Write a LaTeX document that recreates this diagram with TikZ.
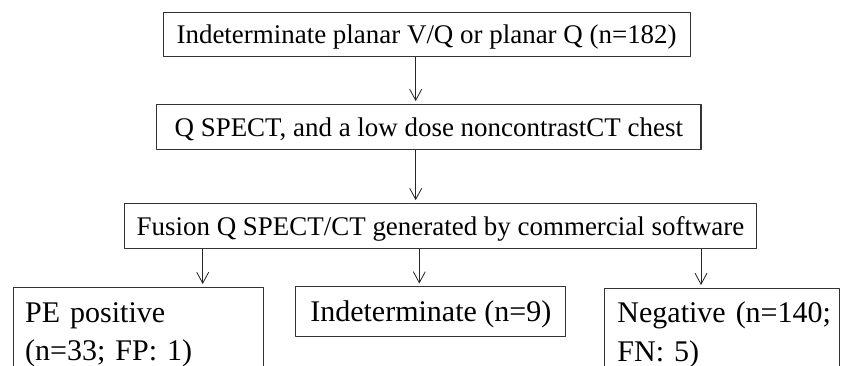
\documentclass[tikz,border=0pt]{standalone}
\usepackage{fontspec}
\setmainfont{Liberation Serif}
\usetikzlibrary{arrows.meta}

\begin{document}
\begin{tikzpicture}[x=0.3mm,y=-0.3mm,line join=round,
  stepbox/.style={draw=black!80,line width=0.9pt,inner sep=0pt,text depth=0pt,
    font=\fontsize{23}{27}\selectfont},
  outbox/.style={draw=black!80,line width=0.9pt,align=left,anchor=north west,
    font=\fontsize{25.6}{32.7}\selectfont},
  arr/.style={draw=black!85,line width=0.7pt,shorten >=0.8mm,
    -{Straight Barb[length=3.3mm,width=3.6mm]}}]
  \useasboundingbox (0,0) rectangle (843,366);
  \clip (0,0) rectangle (843,366);

  % columns of the arrows
  \coordinate (c0) at (415.7,0);
  \coordinate (c1) at (202.7,0);
  \coordinate (c2) at (419.3,0);
  \coordinate (c3) at (701,0);

  % flow steps
  \node[stepbox,minimum width=158.1mm,minimum height=13.3mm] (top) at (426.6,34.5)
    {Indeterminate planar V/Q or planar Q (n=182)};
  \node[stepbox,minimum width=163.3mm,minimum height=13.5mm] (spect) at (428.8,126.8)
    {Q SPECT, and a low dose noncontrastCT chest};
  \node[stepbox,minimum width=189.7mm,minimum height=13.4mm] (fusion) at (440.5,225.7)
    {Fusion Q SPECT/CT generated by commercial software};

  % outcomes
  \node[outbox,text width=67.9mm,inner xsep=3.6mm,inner ysep=4.5mm] (pos) at (12.7,286.7)
    {PE positive\\(n=33; FP: 1)};
  \node[stepbox,minimum width=80.9mm,minimum height=14.8mm,
    font=\fontsize{25.6}{32.7}\selectfont] (indet) at (430.8,311.4)
    {Indeterminate (n=9)};
  \node[outbox,text width=62.8mm,inner xsep=3.8mm,inner ysep=4.1mm] (neg) at (604.3,287.7)
    {Negative~(n=140;\\FN: 5)};

  \draw[arr] (top.south -| c0) -- (spect.north -| c0);
  \draw[arr] (spect.south -| c0) -- (fusion.north -| c0);
  \draw[arr] (fusion.south -| c1) -- (pos.north -| c1);
  \draw[arr] (fusion.south -| c2) -- (indet.north -| c2);
  \draw[arr] (fusion.south -| c3) -- (neg.north -| c3);
\end{tikzpicture}
\end{document}
